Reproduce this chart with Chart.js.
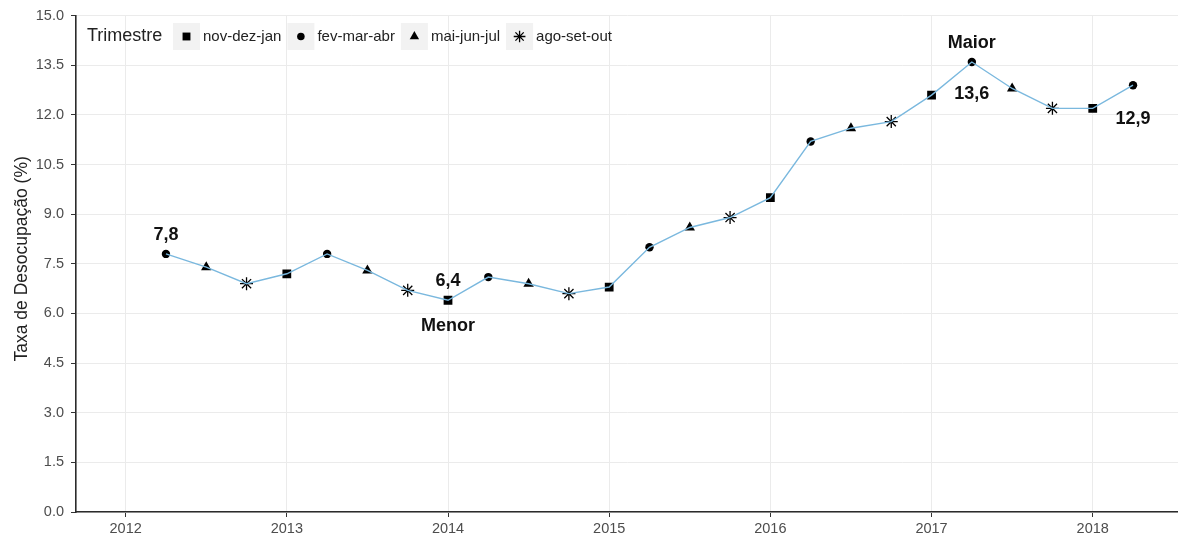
<!DOCTYPE html>
<html>
<head>
<meta charset="utf-8">
<script src="https://cdn.jsdelivr.net/npm/chart.js@4"></script>
<style>
  html, body { margin: 0; padding: 0; background: #fff; overflow: hidden; }
  canvas { display: block; }
</style>
</head>
<body>
<canvas id="taxaChart" width="1178" height="541"></canvas>
<script>
// dados: taxa de desocupação por trimestre móvel
const anos = [2012, 2013, 2014, 2015, 2016, 2017, 2018];
const yTicks = [0, 1.5, 3, 4.5, 6, 7.5, 9, 10.5, 12, 13.5, 15];
const trimestres = ["nov-dez-jan", "fev-mar-abr", "mai-jun-jul", "ago-set-out"];

const periodo = [
  2012.25, 2012.5, 2012.75, 2013.0, 2013.25, 2013.5, 2013.75, 2014.0,
  2014.25, 2014.5, 2014.75, 2015.0, 2015.25, 2015.5, 2015.75, 2016.0,
  2016.25, 2016.5, 2016.75, 2017.0, 2017.25, 2017.5, 2017.75, 2018.0,
  2018.25,
];
const taxa = [
  7.8, 7.4, 6.9, 7.2, 7.8, 7.3, 6.7, 6.4,
  7.1, 6.9, 6.6, 6.8, 8.0, 8.6, 8.9, 9.5,
  11.2, 11.6, 11.8, 12.6, 13.6, 12.8, 12.2, 12.2,
  12.9,
];
const trimestreDoPonto = [
  "fev-mar-abr", "mai-jun-jul", "ago-set-out", "nov-dez-jan",
  "fev-mar-abr", "mai-jun-jul", "ago-set-out", "nov-dez-jan",
  "fev-mar-abr", "mai-jun-jul", "ago-set-out", "nov-dez-jan",
  "fev-mar-abr", "mai-jun-jul", "ago-set-out", "nov-dez-jan",
  "fev-mar-abr", "mai-jun-jul", "ago-set-out", "nov-dez-jan",
  "fev-mar-abr", "mai-jun-jul", "ago-set-out", "nov-dez-jan",
  "fev-mar-abr",
];

// rótulos de destaque (índice do ponto e texto)
const rotuloPonto = [0, 7, 7, 20, 20, 24];
const rotuloTexto = ["7,8", "6,4", "Menor", "Maior", "13,6", "12,9"];

// estilo de cada trimestre
const simbolo = {
  "nov-dez-jan": { pointStyle: "rect", radius: 6.2 },
  "fev-mar-abr": { pointStyle: "circle", radius: 4.2 },
  "mai-jun-jul": { pointStyle: "triangle", radius: 6 },
  "ago-set-out": { pointStyle: "star", radius: 6.5 },
};

const FONTE = "'Liberation Sans', Arial, sans-serif";

const pontos = periodo.map((p, i) => ({ x: p, y: taxa[i] }));

const datasets = [
  {
    label: "linha",
    data: pontos,
    showLine: true,
    borderColor: "#7ab8de",
    borderWidth: 1.4,
    pointRadius: 0,
    order: 0,
  },
];
trimestres.forEach((t) => {
  const s = simbolo[t];
  datasets.push({
    label: t,
    data: pontos.filter((p, i) => trimestreDoPonto[i] === t),
    showLine: false,
    pointStyle: s.pointStyle,
    pointRadius: s.radius,
    pointBackgroundColor: "#000",
    pointBorderColor: "#000",
    pointBorderWidth: s.pointStyle === "star" ? 1.3 : 0,
    order: 1,
  });
});

const extras = {
  id: "extras",
  afterDatasetsDraw(chart) {
    const ctx = chart.ctx;
    const xs = chart.scales.x;
    const ys = chart.scales.y;
    const area = chart.chartArea;

    // rótulos
    const deslocY = [-20, -21, 24, -20, 31, 32];
    ctx.save();
    ctx.fillStyle = "#111";
    ctx.font = "bold 18px " + FONTE;
    ctx.textAlign = "center";
    ctx.textBaseline = "alphabetic";
    rotuloTexto.forEach((txt, k) => {
      const i = rotuloPonto[k];
      const px = xs.getPixelForValue(periodo[i]);
      const py = ys.getPixelForValue(taxa[i]) + deslocY[k];
      ctx.fillText(txt, px, py + 6.4);
    });
    ctx.restore();

    // título do eixo y
    ctx.save();
    ctx.translate(22, (area.top + area.bottom) / 2 - 5);
    ctx.rotate(-Math.PI / 2);
    ctx.fillStyle = "#222";
    ctx.font = "17.5px " + FONTE;
    ctx.textAlign = "center";
    ctx.textBaseline = "middle";
    ctx.fillText("Taxa de Desocupação (%)", 0, 0);
    ctx.restore();

    // legenda
    ctx.save();
    const cy = 36.5;
    ctx.textBaseline = "middle";
    ctx.textAlign = "left";
    ctx.fillStyle = "#222";
    ctx.font = "18px " + FONTE;
    ctx.fillText("Trimestre", 87, cy);
    let x = 173;
    ctx.font = "15px " + FONTE;
    trimestres.forEach((t) => {
      ctx.fillStyle = "#f2f2f2";
      ctx.fillRect(x, cy - 13.5, 27, 27);
      const s = simbolo[t];
      ctx.fillStyle = "#000";
      ctx.strokeStyle = "#000";
      ctx.lineWidth = 1.3;
      Chart.helpers.drawPoint(
        ctx,
        {
          pointStyle: s.pointStyle,
          radius: s.radius * 0.9,
          borderWidth: s.pointStyle === "star" ? 1.3 : 0,
        },
        x + 13.5,
        cy
      );
      ctx.fillStyle = "#222";
      ctx.fillText(t, x + 30, cy);
      x += 30 + ctx.measureText(t).width + 6;
    });
    ctx.restore();
  },
};

const ctx = document.getElementById("taxaChart").getContext("2d");

new Chart(ctx, {
  type: "scatter",
  data: { datasets: datasets },
  options: {
    responsive: false,
    animation: false,
    layout: { autoPadding: false, padding: { top: 13.5, right: 0, left: 0, bottom: 0 } },
    plugins: {
      legend: { display: false },
      tooltip: { enabled: false },
    },
    scales: {
      x: {
        type: "linear",
        min: 2011.692,
        max: 2018.529,
        afterBuildTicks: (scale) => {
          scale.ticks = anos.map((v) => ({ value: v }));
        },
        afterFit: (scale) => {
          scale.height = 29;
        },
        grid: {
          color: "#ebebeb",
          lineWidth: 1,
          tickLength: 5,
          tickColor: "#333",
        },
        border: { display: true, color: "#2b2b2b", width: 1.6 },
        ticks: {
          color: "#4d4d4d",
          padding: 3,
          font: { family: FONTE, size: 14.5 },
          callback: (v) => String(v),
        },
      },
      y: {
        min: 0,
        max: 15,
        afterBuildTicks: (scale) => {
          scale.ticks = yTicks.map((v) => ({ value: v }));
        },
        afterFit: (scale) => {
          scale.width = 76;
        },
        grid: {
          color: "#ebebeb",
          lineWidth: 1,
          tickLength: 5,
          tickColor: "#333",
        },
        border: { display: true, color: "#2b2b2b", width: 1.6 },
        ticks: {
          color: "#4d4d4d",
          padding: 7,
          font: { family: FONTE, size: 14.5 },
          callback: (v) => v.toFixed(1),
        },
      },
    },
  },
  plugins: [extras],
});
</script>
</body>
</html>
